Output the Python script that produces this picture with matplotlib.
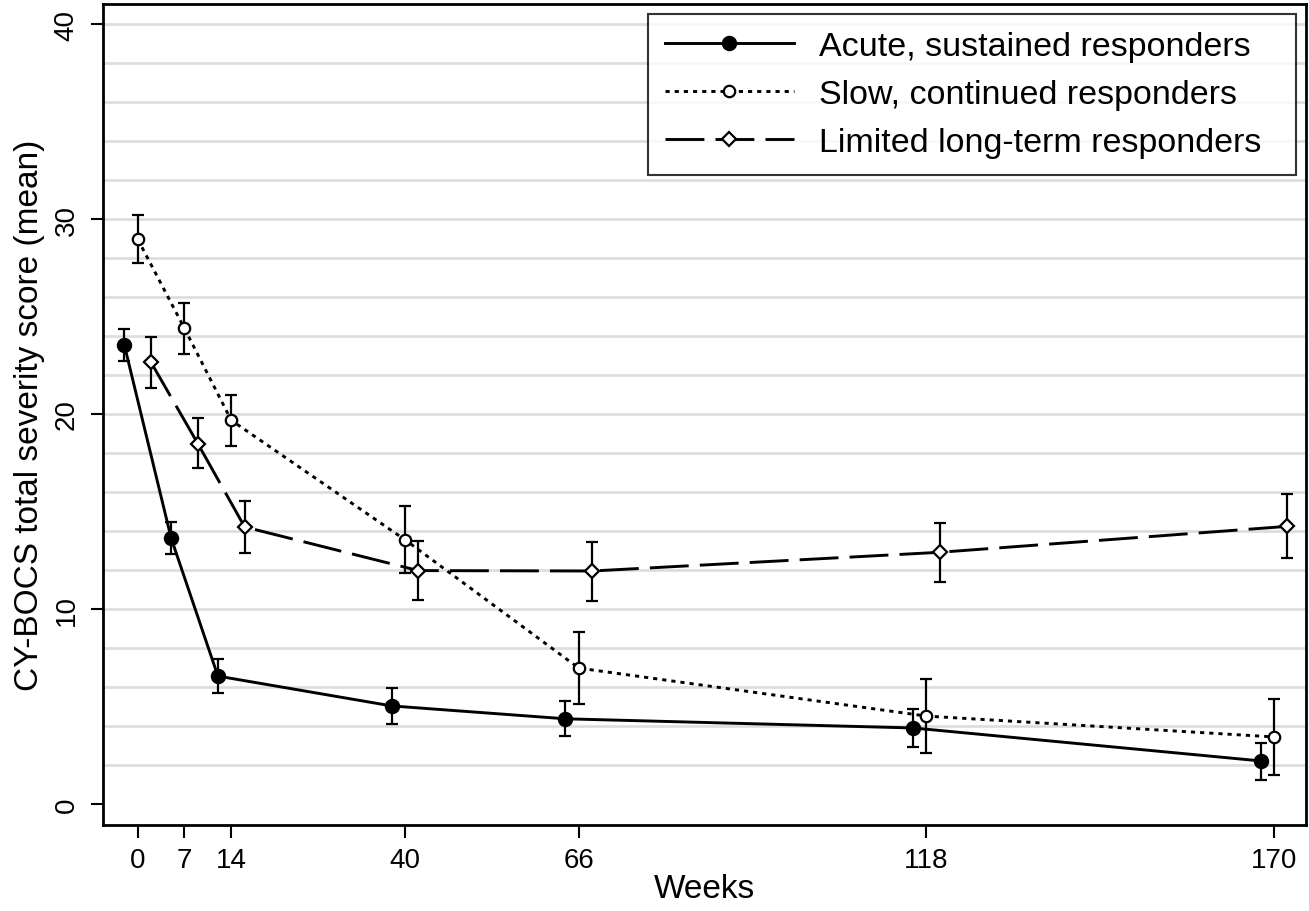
import matplotlib
matplotlib.use("Agg")
import matplotlib.pyplot as plt
import numpy as np

plt.rcParams['font.family'] = ['Liberation Sans', 'DejaVu Sans']
plt.rcParams['lines.scale_dashes'] = False

# Assessment weeks and per-group horizontal offsets
weeks = [0, 7, 14, 40, 66, 118, 170]
week_labels = ['0', '7', '14', '40', '66', '118', '170']
offsets = {'acute': -2, 'slow': 0, 'limited': 2}

# Acute, sustained responders
acute_mean = [23.54, 13.64, 6.56, 5.03, 4.37, 3.90, 2.21]
acute_lo = [22.72, 12.82, 5.69, 4.09, 3.49, 2.92, 1.23]
acute_hi = [24.36, 14.46, 7.44, 5.95, 5.30, 4.87, 3.13]

# Slow, continued responders
slow_mean = [28.97, 24.39, 19.68, 13.55, 6.97, 4.51, 3.44]
slow_lo = [27.74, 23.09, 18.36, 11.83, 5.11, 2.60, 1.49]
slow_hi = [30.20, 25.68, 20.99, 15.30, 8.80, 6.43, 5.38]

# Limited long-term responders
limited_mean = [22.65, 18.48, 14.21, 11.97, 11.95, 12.91, 14.24]
limited_lo = [21.35, 17.21, 12.87, 10.46, 10.41, 11.38, 12.63]
limited_hi = [23.96, 19.78, 15.54, 13.50, 13.45, 14.41, 15.90]

group_names = ['Acute, sustained responders',
               'Slow, continued responders',
               'Limited long-term responders']

y_ticks = [0, 10, 20, 30, 40]
grid_levels = list(range(2, 41, 2))

fig = plt.figure(figsize=(13.09, 9.12), dpi=100)
ax = fig.add_axes([0.0787, 0.0943, 0.919, 0.9002])

for g in grid_levels:
    ax.axhline(g, color='#dcdcdc', lw=1.9, zorder=0)

lw_line = 2.1
err_kw = dict(ecolor='black', elinewidth=1.6, capsize=4, capthick=1.6)

def draw_group(key, mean, lo, hi, fmt, ls, mfc, ms, label):
    x = np.array(weeks, dtype=float) + offsets[key]
    mean = np.array(mean)
    yerr = [mean - np.array(lo), np.array(hi) - mean]
    ax.errorbar(x, mean, yerr=yerr, fmt='none', zorder=2, **err_kw)
    ax.plot(x, mean, color='black', lw=lw_line, linestyle=ls, marker=fmt,
            markersize=ms, markerfacecolor=mfc, markeredgecolor='black',
            markeredgewidth=1.6, label=label, zorder=3)

draw_group('acute', acute_mean, acute_lo, acute_hi, 'o', '-', 'black', 9.5,
           group_names[0])
draw_group('slow', slow_mean, slow_lo, slow_hi, 'o', (0, (3.0, 3.6)), 'white', 8.2,
           group_names[1])
draw_group('limited', limited_mean, limited_lo, limited_hi, 'D', (0, (28, 8)), 'white', 7.2,
           group_names[2])

ax.set_xlim(-5.19, 174.8)
ax.set_ylim(-1.077, 41.03)
ax.set_xticks(weeks)
ax.set_xticklabels(week_labels)
ax.set_yticks(y_ticks)
ax.set_yticklabels([str(v) for v in y_ticks], rotation=90, va='center')

ax.tick_params(axis='both', direction='out', length=9, width=1.5,
               labelsize=20, color='black')
ax.tick_params(axis='x', pad=7)
ax.tick_params(axis='y', pad=8)
for s in ax.spines.values():
    s.set_linewidth(2.0)
    s.set_color('black')

ax.set_xlabel('Weeks', fontsize=24, labelpad=0)
ax.set_ylabel('CY-BOCS total severity score (mean)', fontsize=24, labelpad=6)

# Legend box spans a fixed width in the upper right corner
leg = ax.legend(loc='upper right', bbox_to_anchor=(0.453, 0.5, 0.5387, 0.4878),
                mode='expand', borderaxespad=0, fontsize=24.5, frameon=True,
                fancybox=False, handlelength=3.79, handletextpad=0.73,
                labelspacing=0.5, borderpad=0.5, markerscale=1.0)
leg.get_frame().set_edgecolor('black')
leg.get_frame().set_linewidth(1.5)

fig.savefig('out.png', dpi=100, facecolor='white')
